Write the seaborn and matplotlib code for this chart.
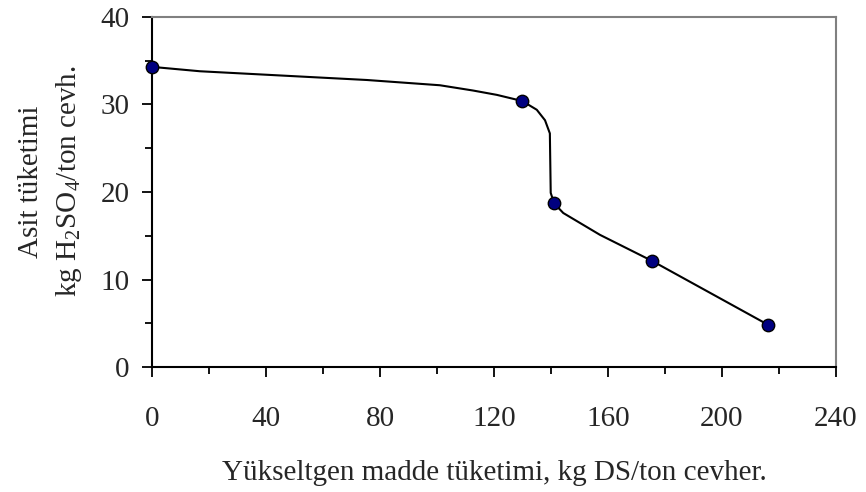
import numpy as np
import pandas as pd
import seaborn as sns
import matplotlib.pyplot as plt
from matplotlib.ticker import MultipleLocator

"""
Acid consumption vs oxidant consumption (Excel style line with markers).
"""
# measured points
oxidant = [0, 129.9, 141.1, 175.6, 216.3]
acid = [34.3, 30.4, 18.7, 12.1, 4.8]

# smoothed curve
curve_x = [0, 16.8, 51.9, 75.4, 101, 112.6, 121, 129.9, 135, 137.9, 139.6,
           139.9, 141.1, 144.3, 157.2, 175.6, 216.3]
curve_y = [34.3, 33.8, 33.2, 32.8, 32.2, 31.6, 31.1, 30.4, 29.4, 28.2, 26.7,
           19.9, 18.7, 17.6, 15.1, 12.1, 4.8]

df_pts = pd.DataFrame({"x": oxidant, "y": acid})
df_curve = pd.DataFrame({"x": curve_x, "y": curve_y})

sns.set_style("ticks")
plt.rcParams["font.family"] = ["Liberation Serif", "DejaVu Serif"]
plt.rcParams["mathtext.fontset"] = "custom"
plt.rcParams["mathtext.rm"] = "Liberation Serif"

fig = plt.figure(figsize=(8.66, 4.92), dpi=100)
ax = fig.add_axes([152/866, 125/492, 684/866, 350/492])

sns.lineplot(x="x", y="y", data=df_curve, sort=False, color="black",
             linewidth=1.5, ax=ax, zorder=2)
sns.scatterplot(x="x", y="y", data=df_pts, color="#000080", edgecolor="black",
                linewidth=1.0, s=80, ax=ax, zorder=3, clip_on=False)

ax.set_xlim(0, 240)
ax.set_ylim(0, 40)
ax.xaxis.set_major_locator(MultipleLocator(40))
ax.xaxis.set_minor_locator(MultipleLocator(20))
ax.yaxis.set_major_locator(MultipleLocator(10))
ax.yaxis.set_minor_locator(MultipleLocator(5))

ax.tick_params(axis="x", which="major", direction="out", length=7, width=1.3,
               pad=21, labelsize=21, color="black")
ax.tick_params(axis="x", which="minor", direction="out", length=5, width=1.3,
               color="black")
ax.tick_params(axis="y", which="major", direction="out", length=7, width=1.3,
               pad=9, labelsize=21, color="black")
ax.tick_params(axis="y", which="minor", direction="out", length=5, width=1.3,
               color="black")

for side in ["left", "bottom"]:
    ax.spines[side].set_color("black")
    ax.spines[side].set_linewidth(1.5)
for side in ["top", "right"]:
    ax.spines[side].set_visible(True)
    ax.spines[side].set_color("#808080")
    ax.spines[side].set_linewidth(1.5)

ax.set_xlabel("Yükseltgen madde tüketimi, kg DS/ton cevher.", fontsize=21,
              labelpad=20)
ax.set_ylabel("Asit tüketimi\nkg $\\mathregular{H_2SO_4}$/ton cevh.",
              fontsize=21, linespacing=1.45)
ax.yaxis.set_label_coords(-0.1, 0.53)

plt.savefig("out.png", dpi=100)
plt.close()
